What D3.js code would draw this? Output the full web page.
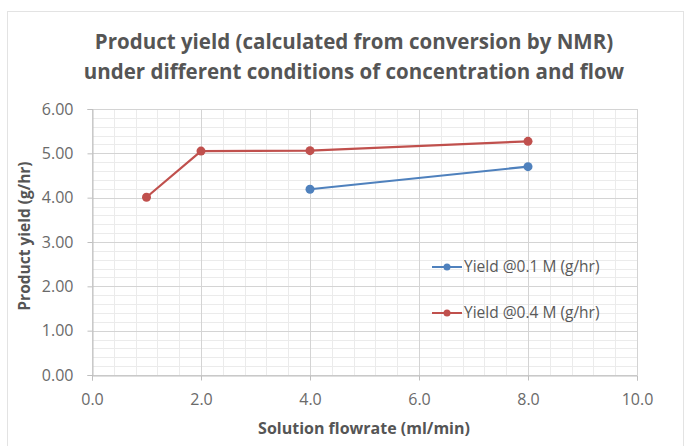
<!DOCTYPE html>
<html>
<head>
<meta charset="utf-8">
<script src="https://cdn.jsdelivr.net/npm/d3@7"></script>
<style>
  body { margin: 0; background: #fff; }
  text { font-family: "Open Sans", "DejaVu Sans", sans-serif; }
</style>
</head>
<body>
<div id="chart"></div>
<script>
// Data
var titleLines = ["Product yield (calculated from conversion by NMR)",
                  "under different conditions of concentration and flow"];
var flow01 = [4, 8];
var yield01 = [4.19, 4.70];
var flow04 = [1, 2, 4, 8];
var yield04 = [4.01, 5.05, 5.06, 5.27];
var seriesNames = ["Yield @0.1 M (g/hr)", "Yield @0.4 M (g/hr)"];
var seriesColors = ["#4f81bd", "#c0504d"];
var xTicks = [0, 2, 4, 6, 8, 10];
var yTicks = [0, 1, 2, 3, 4, 5, 6];

var width = 686, height = 446;
var margin = {left: 92, right: 49, top: 109, bottom: 71};

var svg = d3.select("#chart").append("svg")
    .attr("width", width)
    .attr("height", height);

// chart area border
svg.append("rect")
    .attr("x", 7.5).attr("y", 11.5)
    .attr("width", 676).attr("height", 440)
    .attr("fill", "#fff")
    .attr("stroke", "#e3e3e3");

var x = d3.scaleLinear().domain([0, 10])
    .range([margin.left, width - margin.right]);
var y = d3.scaleLinear().domain([0, 6])
    .range([height - margin.bottom, margin.top]);

// minor grid
var g = svg.append("g");
g.selectAll(".vmin").data(d3.range(0, 10.001, 0.4))
  .enter().append("line")
    .attr("x1", function(d) { return Math.round(x(d)) + 0.5; })
    .attr("x2", function(d) { return Math.round(x(d)) + 0.5; })
    .attr("y1", y(0)).attr("y2", y(6))
    .attr("stroke", "#ebebeb");
g.selectAll(".hmin").data(d3.range(0, 6.001, 0.2))
  .enter().append("line")
    .attr("y1", function(d) { return Math.round(y(d)) + 0.5; })
    .attr("y2", function(d) { return Math.round(y(d)) + 0.5; })
    .attr("x1", x(0)).attr("x2", x(10))
    .attr("stroke", "#ebebeb");
// major grid
g.selectAll(".vmaj").data(xTicks)
  .enter().append("line")
    .attr("x1", function(d) { return Math.round(x(d)) + 0.5; })
    .attr("x2", function(d) { return Math.round(x(d)) + 0.5; })
    .attr("y1", y(0)).attr("y2", y(6))
    .attr("stroke", "#d4d4d4");
g.selectAll(".hmaj").data(yTicks)
  .enter().append("line")
    .attr("y1", function(d) { return Math.round(y(d)) + 0.5; })
    .attr("y2", function(d) { return Math.round(y(d)) + 0.5; })
    .attr("x1", x(0)).attr("x2", x(10))
    .attr("stroke", "#d4d4d4");

// axes
var xAxis = svg.append("g")
    .attr("transform", "translate(0," + (Math.round(y(0)) + 0.5) + ")")
    .call(d3.axisBottom(x).tickValues(xTicks).tickSize(5).tickPadding(13)
      .tickFormat(d3.format(".1f")));
var yAxis = svg.append("g")
    .attr("transform", "translate(" + (Math.round(x(0)) + 0.5) + ",0)")
    .call(d3.axisLeft(y).tickValues(yTicks).tickSize(5).tickPadding(14)
      .tickFormat(d3.format(".2f")));
[xAxis, yAxis].forEach(function(a) {
  a.select(".domain").attr("stroke", "#bfbfbf");
  a.selectAll(".tick line").attr("stroke", "#bfbfbf");
  a.selectAll(".tick text").attr("fill", "#6a6a6a")
    .style("font-size", "16px")
    .style("font-family", "'Open Sans', sans-serif");
});

// series
var line = d3.line()
    .x(function(d) { return x(d[0]); })
    .y(function(d) { return y(d[1]); });
var series = [d3.zip(flow01, yield01), d3.zip(flow04, yield04)];
series.forEach(function(s, i) {
  svg.append("path")
      .datum(s)
      .attr("d", line)
      .attr("fill", "none")
      .attr("stroke", seriesColors[i])
      .attr("stroke-width", 2.2);
  svg.selectAll(".pt" + i).data(s)
    .enter().append("circle")
      .attr("cx", function(d) { return x(d[0]); })
      .attr("cy", function(d) { return y(d[1]); })
      .attr("r", 4.5)
      .attr("fill", seriesColors[i]);
});

// legend
var legend = svg.append("g");
seriesNames.forEach(function(n, i) {
  var ly = 267 + i * 46;
  legend.append("line")
      .attr("x1", 432).attr("x2", 462)
      .attr("y1", ly).attr("y2", ly)
      .attr("stroke", seriesColors[i]).attr("stroke-width", 2);
  legend.append("circle")
      .attr("cx", 447).attr("cy", ly).attr("r", 3.5)
      .attr("fill", seriesColors[i]);
  legend.append("text")
      .attr("x", 464).attr("y", ly)
      .attr("dy", "0.35em")
      .attr("fill", "#595959")
      .style("font-size", "15.5px")
      .text(n);
});

// title
svg.selectAll(".title").data(titleLines)
  .enter().append("text")
    .attr("x", 354)
    .attr("y", function(d, i) { return 49 + i * 30; })
    .attr("text-anchor", "middle")
    .attr("fill", "#555")
    .style("font-size", "20.5px")
    .style("font-weight", "bold")
    .text(function(d) { return d; });

// axis titles
svg.append("text")
    .attr("x", 364).attr("y", 434)
    .attr("text-anchor", "middle")
    .attr("fill", "#555")
    .style("font-size", "16px")
    .style("font-weight", "bold")
    .text("Solution flowrate (ml/min)");
svg.append("text")
    .attr("transform", "translate(30,236) rotate(-90)")
    .attr("text-anchor", "middle")
    .attr("fill", "#555")
    .style("font-size", "15.5px")
    .style("font-weight", "bold")
    .text("Product yield (g/hr)");
</script>
</body>
</html>
